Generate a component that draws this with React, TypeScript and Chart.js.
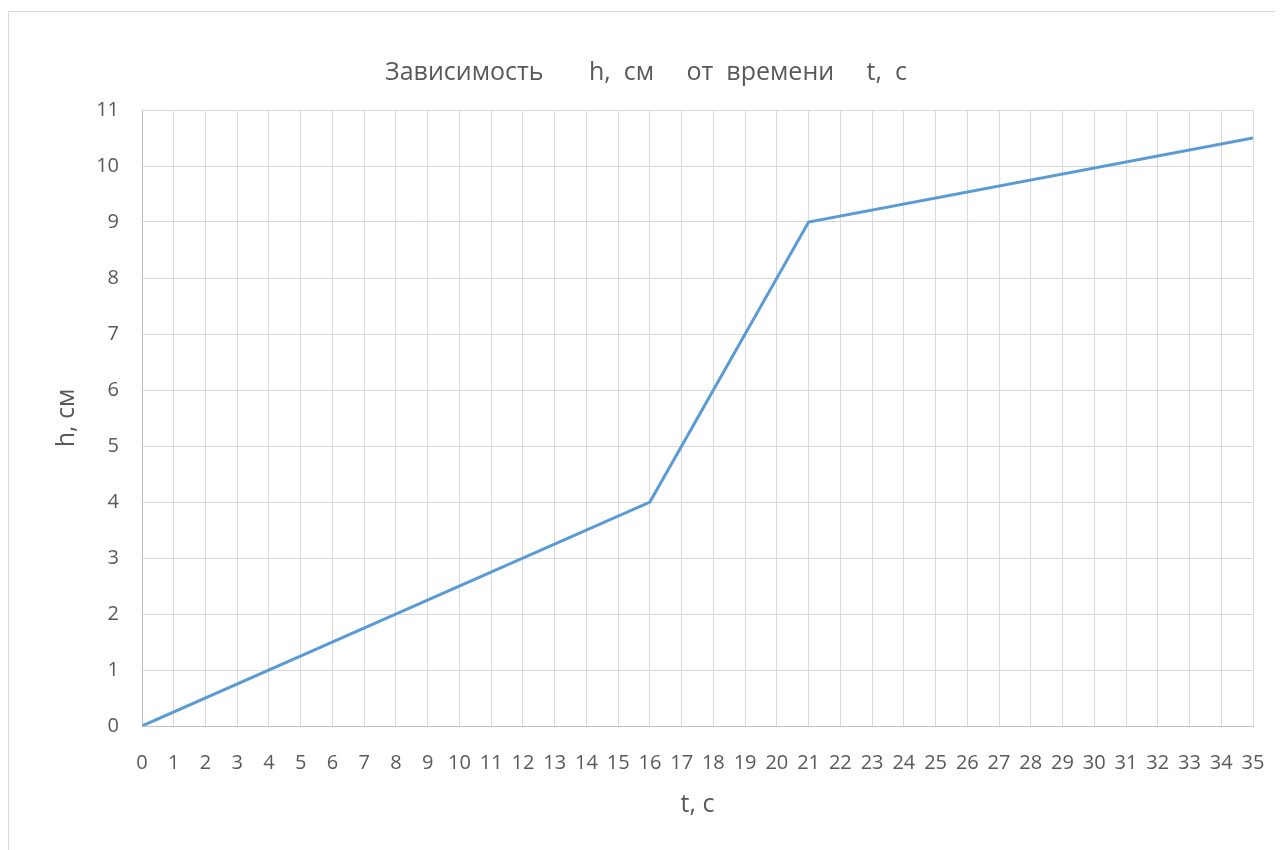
import React, { useEffect, useRef } from "react";
import { Chart, registerables } from "chart.js";

Chart.register(...registerables);

// Time, s
const timeS = [0, 16, 21, 35];
// Height, cm
const heightCm = [0, 4, 9, 10.5];

const titleText = "Зависимость       h,  см     от  времени     t,  с";
const xTitle = "t, с";
const yTitle = "h, см";

const textColor = "#595959";
const gridColor = "#d9d9d9";
const axisColor = "#bfbfbf";
const lineColor = "#5b9bd5";
const fontFamily = "'Open Sans', 'Liberation Sans', sans-serif";

export default function App() {
  const canvasRef = useRef<HTMLCanvasElement | null>(null);

  useEffect(() => {
    document.documentElement.style.overflow = "hidden";
    document.body.style.overflow = "hidden";
    const canvas = canvasRef.current;
    if (!canvas) return;
    const chart = new Chart(canvas, {
      type: "line",
      data: {
        datasets: [
          {
            data: timeS.map((t, i) => ({ x: t, y: heightCm[i] })),
            borderColor: lineColor,
            borderWidth: 3,
            pointRadius: 0,
            tension: 0,
            fill: false,
          },
        ],
      },
      options: {
        responsive: false,
        animation: false,
        layout: { padding: 0 },
        plugins: {
          legend: { display: false },
          tooltip: { enabled: false },
          title: {
            display: true,
            text: titleText,
            color: textColor,
            font: { family: fontFamily, size: 25, weight: "normal" },
            padding: { top: 46, bottom: 22 },
          },
        },
        scales: {
          x: {
            type: "linear",
            min: 0,
            max: 35,
            afterFit: (scale: any) => {
              scale.height = 124;
              scale.paddingLeft = 0;
              scale.paddingRight = 30;
            },
            ticks: {
              stepSize: 1,
              autoSkip: false,
              maxRotation: 0,
              color: textColor,
              padding: 25,
              font: { family: fontFamily, size: 20 },
            },
            grid: { color: gridColor, lineWidth: 1, drawTicks: false },
            border: { color: axisColor, width: 1 },
            title: {
              display: true,
              text: xTitle,
              color: textColor,
              font: { family: fontFamily, size: 25 },
              padding: { top: 0, bottom: 30 },
            },
          },
          y: {
            min: 0,
            max: 11,
            afterFit: (scale: any) => {
              scale.width = 133;
            },
            ticks: {
              stepSize: 1,
              color: textColor,
              padding: 23,
              font: { family: fontFamily, size: 20 },
            },
            grid: { color: gridColor, lineWidth: 1, drawTicks: false },
            border: { color: axisColor, width: 1 },
            title: {
              display: true,
              text: yTitle,
              color: textColor,
              font: { family: fontFamily, size: 25 },
              padding: { top: 43, bottom: 0 },
            },
          },
        },
      },
    } as any);
    return () => chart.destroy();
  }, []);

  return (
    <div
      style={{
        marginTop: 3,
        width: 1275,
        height: 839,
        borderTop: "1px solid #d9d9d9",
        borderLeft: "1px solid #d9d9d9",
        boxSizing: "border-box",
        background: "#fff",
      }}
    >
      <canvas ref={canvasRef} width={1274} height={838} style={{ display: "block" }} />
    </div>
  );
}
